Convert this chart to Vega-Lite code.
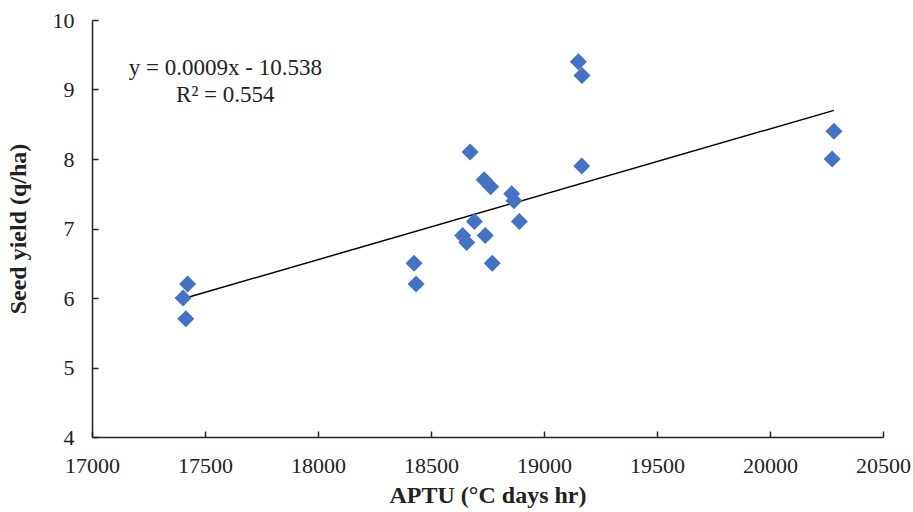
{
  "$schema": "https://vega.github.io/schema/vega-lite/v6.json",
  "width": 791,
  "height": 417,
  "autosize": {"type": "none"},
  "padding": {"left": 92, "top": 20, "right": 30, "bottom": 75},
  "background": "white",
  "config": {
    "view": {"stroke": null},
    "font": "Liberation Serif",
    "axis": {
      "grid": false,
      "domainColor": "#222222",
      "domainWidth": 1.5,
      "tickColor": "#222222",
      "tickWidth": 1.5,
      "tickSize": -6,
      "labelFlush": false,
      "labelOverlap": false,
      "labelFont": "Liberation Serif",
      "labelFontSize": 22,
      "labelColor": "#222222",
      "titleFont": "Liberation Serif",
      "titleFontSize": 24,
      "titleFontWeight": "bold",
      "titleColor": "#222222"
    }
  },
  "datasets": {
    "points": [
      {"aptu": 17403, "yield": 6.0},
      {"aptu": 17423, "yield": 6.2},
      {"aptu": 17415, "yield": 5.7},
      {"aptu": 18425, "yield": 6.5},
      {"aptu": 18434, "yield": 6.2},
      {"aptu": 18673, "yield": 8.1},
      {"aptu": 18735, "yield": 7.7},
      {"aptu": 18764, "yield": 7.6},
      {"aptu": 18857, "yield": 7.5},
      {"aptu": 18867, "yield": 7.4},
      {"aptu": 18692, "yield": 7.1},
      {"aptu": 18640, "yield": 6.9},
      {"aptu": 18658, "yield": 6.8},
      {"aptu": 18740, "yield": 6.9},
      {"aptu": 18771, "yield": 6.5},
      {"aptu": 18891, "yield": 7.1},
      {"aptu": 19167, "yield": 7.9},
      {"aptu": 19152, "yield": 9.4},
      {"aptu": 19168, "yield": 9.2},
      {"aptu": 20283, "yield": 8.4},
      {"aptu": 20275, "yield": 8.0}
    ],
    "trend": [
      {"aptu": 17403, "yield": 5.99},
      {"aptu": 20283, "yield": 8.70}
    ],
    "label": [
      {"aptu": 17590, "yield": 9.31, "text": "y = 0.0009x - 10.538"},
      {"aptu": 17590, "yield": 8.92, "text": "R² = 0.554"}
    ]
  },
  "layer": [
    {
      "data": {"name": "trend"},
      "mark": {"type": "line", "color": "black", "strokeWidth": 1.5},
      "encoding": {
        "x": {"field": "aptu", "type": "quantitative"},
        "y": {"field": "yield", "type": "quantitative"}
      }
    },
    {
      "data": {"name": "points"},
      "mark": {"type": "point", "shape": "diamond", "filled": true, "color": "#4472C4", "size": 290, "opacity": 1},
      "encoding": {
        "x": {
          "field": "aptu",
          "type": "quantitative",
          "scale": {"domain": [17000, 20500], "nice": false, "zero": false},
          "axis": {"values": [17000, 17500, 18000, 18500, 19000, 19500, 20000, 20500], "title": "APTU (°C days hr)", "labelPadding": 24, "titlePadding": 7, "format": "d"}
        },
        "y": {
          "field": "yield",
          "type": "quantitative",
          "scale": {"domain": [4, 10], "nice": false, "zero": false},
          "axis": {"values": [4, 5, 6, 7, 8, 9, 10], "title": "Seed yield (q/ha)", "labelPadding": 24, "titlePadding": 22, "format": "d"}
        }
      }
    },
    {
      "data": {"name": "label"},
      "mark": {"type": "text", "font": "Liberation Serif", "fontSize": 23, "color": "#222222", "align": "center", "baseline": "middle"},
      "encoding": {
        "x": {"field": "aptu", "type": "quantitative"},
        "y": {"field": "yield", "type": "quantitative"},
        "text": {"field": "text"}
      }
    }
  ]
}
